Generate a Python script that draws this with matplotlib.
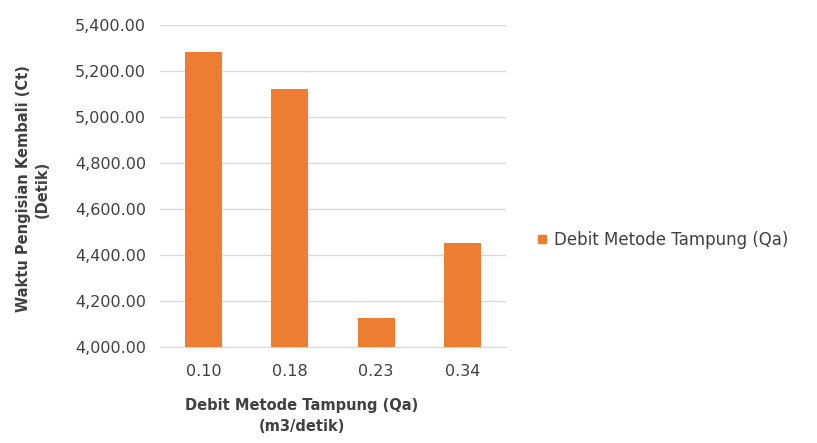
import numpy as np
import matplotlib.pyplot as plt
from matplotlib.ticker import FuncFormatter
from matplotlib.lines import Line2D

# Data
debit_labels = ['0.10', '0.18', '0.23', '0.34']
waktu_detik = [5283, 5122, 4126, 4452]
series_name = 'Debit Metode Tampung (Qa)'

bar_color = '#ED7D31'
text_color = '#404040'

fig = plt.figure(figsize=(8.17, 4.43), dpi=100)
ax = fig.add_axes([0.196, 0.217, 0.423, 0.727])

x = np.arange(len(debit_labels))
ax.bar(x, np.array(waktu_detik) - 4000, bottom=4000, width=0.43, color=bar_color, zorder=3)

ax.set_xlim(-0.5, len(debit_labels) - 0.5)
ax.set_ylim(4000, 5400)
ax.set_yticks(np.arange(4000, 5401, 200))
ax.yaxis.set_major_formatter(FuncFormatter(lambda v, p: f'{v:,.2f}'))
ax.set_xticks(x)
ax.set_xticklabels(debit_labels)

ax.grid(axis='y', color='#D9D9D9', linewidth=1, zorder=0)
for s in ['left', 'right', 'top']:
    ax.spines[s].set_visible(False)
ax.spines['bottom'].set_color('#D9D9D9')
ax.tick_params(axis='y', length=0, labelsize=11.5, colors=text_color, pad=10)
ax.tick_params(axis='x', length=0, labelsize=11.5, colors=text_color, pad=12)

ax.set_ylabel('Waktu Pengisian Kembali (Ct)\n(Detik)', fontsize=10.5, fontweight='bold',
              color=text_color, linespacing=1.3)
ax.yaxis.set_label_coords(-0.32, 0.49)
ax.set_xlabel('Debit Metode Tampung (Qa)\n(m3/detik)', fontsize=10.5, fontweight='bold',
              color=text_color, linespacing=1.5)
ax.xaxis.set_label_coords(0.41, -0.16)
ax.xaxis.label.set_verticalalignment('top')

handle = Line2D([], [], marker='s', linestyle='none', color=bar_color, markersize=6)
fig.legend([handle], [series_name], loc='center left', bbox_to_anchor=(0.635, 0.458),
           frameon=False, fontsize=12, labelcolor=text_color, handletextpad=0.2,
           handlelength=1.0)

fig.savefig('out.png', dpi=100)
